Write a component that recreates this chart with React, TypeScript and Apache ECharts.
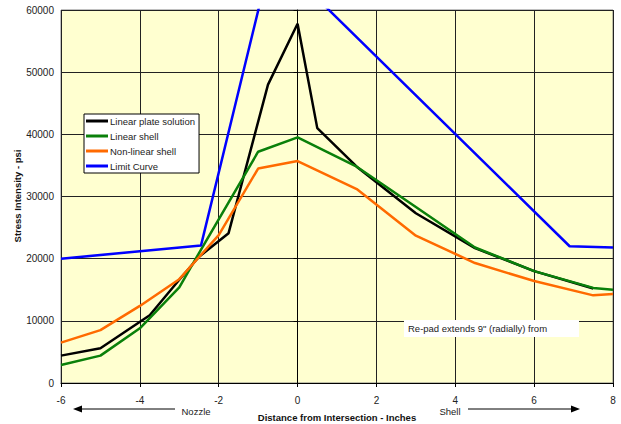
import React, { useEffect, useRef } from "react";
import * as echarts from "echarts";

const seriesNames = ["Linear plate solution", "Linear shell", "Non-linear shell", "Limit Curve"];
const seriesColors = ["#000000", "#0A800A", "#FF6A00", "#0000FF"];

const linearPlate: [number, number][] = [
  [-6, 4400], [-5, 5600], [-3.75, 10900], [-3, 16600], [-2.5, 20300], [-1.75, 24100],
  [-0.75, 48000], [0, 57800], [0.5, 41000], [1.5, 34800], [3, 27300], [4.5, 21700],
  [6, 18000], [7.5, 15200],
];
const linearShell: [number, number][] = [
  [-6, 2900], [-5, 4400], [-4, 8800], [-3, 15400], [-2.5, 20900], [-1, 37200], [0, 39500],
  [1.5, 34800], [3, 28300], [4.5, 21800], [6, 18000], [7.5, 15300], [8, 15000],
];
const nonLinearShell: [number, number][] = [
  [-6, 6500], [-5, 8500], [-4, 12400], [-3, 16700], [-2, 23800], [-1, 34500], [0, 35700],
  [1.5, 31200], [3, 23700], [4.5, 19300], [6, 16400], [7.5, 14100], [8, 14300],
];
const limitCurve: [number, number][] = [
  [-6, 20000], [-2.45, 22100], [-0.65, 69000], [6.9, 22000], [8, 21800],
];

const xTicks = { min: -6, max: 8, interval: 2 };
const yTicks = { min: 0, max: 60000, interval: 10000 };

const xTitle = "Distance from Intersection - Inches";
const yTitle = "Stress Intensity - psi";
const leftNote = "Nozzle";
const rightNote = "Shell";
const annotation = "Re-pad extends 9\" (radially) from";

const FONT = "'Liberation Sans', Arial, Helvetica, sans-serif";

export default function App() {
  const ref = useRef<HTMLDivElement>(null);
  useEffect(() => {
    if (!ref.current) return;
    const chart = echarts.init(ref.current, undefined, { renderer: "svg" });
    const data = [linearPlate, linearShell, nonLinearShell, limitCurve];
    chart.setOption({
      animation: false,
      backgroundColor: "#ffffff",
      textStyle: { fontFamily: FONT },
      grid: {
        left: 61, right: 8, top: 10, bottom: 41,
        show: true, backgroundColor: "#FFFFD0", borderColor: "#808080", borderWidth: 1,
      },
      legend: {
        orient: "vertical",
        left: 84, top: 114,
        data: seriesNames,
        icon: "rect",
        itemWidth: 22, itemHeight: 3, itemGap: 3,
        padding: [1, 4, 1, 2],
        backgroundColor: "#ffffff",
        borderColor: "#000000", borderWidth: 1,
        textStyle: { fontFamily: FONT, fontSize: 9.5, color: "#222", lineHeight: 12, padding: [0, 0, 0, -3] },
      },
      xAxis: {
        type: "value",
        min: xTicks.min, max: xTicks.max, interval: xTicks.interval,
        axisLine: { lineStyle: { color: "#000", width: 1 } },
        axisTick: { show: true, length: 4, lineStyle: { color: "#000" } },
        axisLabel: { fontFamily: FONT, fontSize: 10, color: "#222", margin: 12, formatter: (v: number) => String(v) },
        splitLine: { show: true, lineStyle: { color: "#222", width: 1 } },
      },
      yAxis: {
        type: "value",
        min: yTicks.min, max: yTicks.max, interval: yTicks.interval,
        axisLine: { show: true, lineStyle: { color: "#000", width: 1 } },
        axisTick: { show: true, length: 4, lineStyle: { color: "#000" } },
        axisLabel: { fontFamily: FONT, fontSize: 10, color: "#222", margin: 7, formatter: (v: number) => String(v) },
        splitLine: { show: true, lineStyle: { color: "#222", width: 1 } },
      },
      series: seriesNames.map((name, i) => ({
        name,
        type: "line",
        data: data[i],
        showSymbol: false,
        symbol: "none",
        clip: true,
        color: seriesColors[i],
        lineStyle: { color: seriesColors[i], width: 2.5 },
        itemStyle: { color: seriesColors[i] },
      })),
      graphic: [
        {
          type: "text", x: 17, y: 196, rotation: Math.PI / 2,
          style: { text: yTitle, fontFamily: FONT, fontSize: 9.5, fontWeight: "bold", fill: "#111", align: "center", verticalAlign: "middle" },
        },
        {
          type: "text", x: 337, y: 417,
          style: { text: xTitle, fontFamily: FONT, fontSize: 9.5, fontWeight: "bold", fill: "#111", align: "center", verticalAlign: "middle" },
        },
        {
          type: "text", x: 196, y: 411,
          style: { text: leftNote, fontFamily: FONT, fontSize: 9.5, fill: "#222", align: "center", verticalAlign: "middle" },
        },
        {
          type: "text", x: 450, y: 411,
          style: { text: rightNote, fontFamily: FONT, fontSize: 9.5, fill: "#222", align: "center", verticalAlign: "middle" },
        },
        { type: "line", shape: { x1: 80, y1: 409, x2: 175, y2: 409 }, style: { stroke: "#000", lineWidth: 1 } },
        { type: "polygon", shape: { points: [[73, 409], [82, 405.5], [82, 412.5]] }, style: { fill: "#000" } },
        { type: "line", shape: { x1: 468, y1: 409, x2: 573, y2: 409 }, style: { stroke: "#000", lineWidth: 1 } },
        { type: "polygon", shape: { points: [[580, 409], [571, 405.5], [571, 412.5]] }, style: { fill: "#000" } },
        { type: "rect", shape: { x: 404, y: 320, width: 175, height: 17 }, style: { fill: "#ffffff" }, z: 10 },
        {
          type: "text", x: 408, y: 328.5, z: 11,
          style: { text: annotation, fontFamily: FONT, fontSize: 9.5, fill: "#222", align: "left", verticalAlign: "middle" },
        },
      ],
    });
    return () => chart.dispose();
  }, []);
  return (
    <div
      ref={ref}
      style={{ position: "absolute", left: 0, top: 0, width: 621, height: 424 }}
    />
  );
}
